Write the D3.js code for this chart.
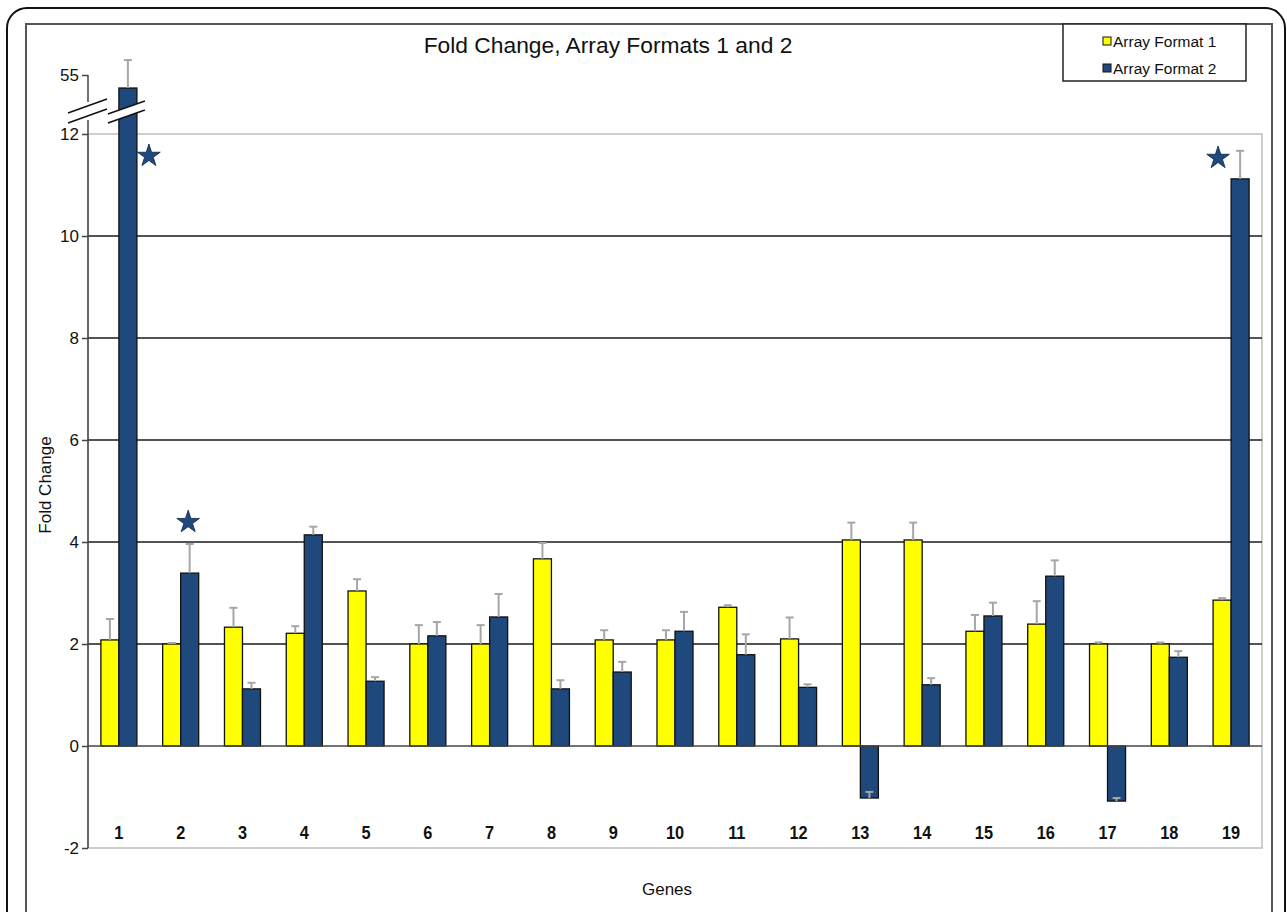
<!DOCTYPE html>
<html>
<head>
<meta charset="utf-8">
<script src="https://cdn.jsdelivr.net/npm/d3@7"></script>
<style>
  html, body { margin: 0; padding: 0; background: #ffffff; }
  svg { display: block; }
  text { font-family: "Liberation Sans", Arial, sans-serif; }
</style>
</head>
<body>
<svg id="chart" width="1287" height="912"></svg>
<script>
// ---------------- data ----------------
const genes = ["1","2","3","4","5","6","7","8","9","10","11","12","13","14","15","16","17","18","19"];
const seriesNames = ["Array Format 1", "Array Format 2"];
const format1Values = [2.08, 2.00, 2.33, 2.21, 3.04, 2.00, 2.00, 3.67, 2.08, 2.08, 2.72, 2.10, 4.04, 4.04, 2.25, 2.39, 2.00, 2.00, 2.86];
const format1Errors = [0.41, 0.02, 0.38, 0.14, 0.23, 0.37, 0.37, 0.31, 0.19, 0.19, 0.04, 0.42, 0.34, 0.34, 0.32, 0.45, 0.03, 0.03, 0.04];
const format2Values = [45.5, 3.39, 1.12, 4.14, 1.27, 2.16, 2.53, 1.12, 1.45, 2.25, 1.79, 1.15, -1.02, 1.20, 2.55, 3.33, -1.08, 1.74, 11.12];
const format2Errors = [20.4, 0.57, 0.12, 0.16, 0.08, 0.27, 0.45, 0.17, 0.20, 0.38, 0.40, 0.06, 0.12, 0.13, 0.26, 0.31, 0.06, 0.12, 0.55];
const yTickValues = [-2, 0, 2, 4, 6, 8, 10, 12, 55];
const gridValues = [2, 4, 6, 8, 10];
const starGenes = ["1", "2", "19"];
const starValues = [11.57, 4.39, 11.53];
const titleText = "Fold Change, Array Formats 1 and 2";
const yAxisTitle = "Fold Change";
const xAxisTitle = "Genes";

// ---------------- layout ----------------
const svg = d3.select("#chart");
const plot = { left: 88, right: 1262, top: 134, bottom: 848 };
const colors = { f1: "#ffff00", f2: "#1f497d", err: "#a6a6a6" };

const x0 = d3.scaleBand().domain(genes).range([plot.left, plot.right])
  .paddingInner(0.417).paddingOuter(0.2085);
const x1 = d3.scaleBand().domain(seriesNames).range([0, x0.bandwidth()]);
// broken axis: -2..12 linear, 12..55 compressed
const y = d3.scaleLinear().domain([-2, 12, 55]).range([plot.bottom, plot.top, 75]);

// outer frames
svg.append("rect").attr("x", 7).attr("y", 8).attr("width", 1278).attr("height", 940)
  .attr("rx", 20).attr("fill", "#fff").attr("stroke", "#111").attr("stroke-width", 2);
svg.append("rect").attr("x", 26).attr("y", 24).attr("width", 1246).attr("height", 920)
  .attr("fill", "#fff").attr("stroke", "#555").attr("stroke-width", 2);

// plot area border
svg.append("rect").attr("x", plot.left).attr("y", plot.top)
  .attr("width", plot.right - plot.left).attr("height", plot.bottom - plot.top)
  .attr("fill", "#fff").attr("stroke", "#bdbdbd").attr("stroke-width", 1.5);

// gridlines
svg.append("g").selectAll("line").data(gridValues).join("line")
  .attr("x1", plot.left).attr("x2", plot.right)
  .attr("y1", d => y(d)).attr("y2", d => y(d))
  .attr("stroke", "#1a1a1a").attr("stroke-width", 1.4);

// bars
const rows = genes.map((g, i) => ({
  gene: g,
  vals: [
    { s: seriesNames[0], v: format1Values[i], e: format1Errors[i], c: colors.f1 },
    { s: seriesNames[1], v: format2Values[i], e: format2Errors[i], c: colors.f2 }
  ]
}));

const groups = svg.append("g").selectAll("g").data(rows).join("g")
  .attr("transform", d => `translate(${x0(d.gene)},0)`);

groups.selectAll("rect").data(d => d.vals).join("rect")
  .attr("x", d => x1(d.s))
  .attr("width", x1.bandwidth())
  .attr("y", d => y(Math.max(0, d.v)))
  .attr("height", d => Math.abs(y(d.v) - y(0)))
  .attr("fill", d => d.c)
  .attr("stroke", "#111").attr("stroke-width", 1.3);

// error bars (plus direction)
const eb = groups.selectAll("g.err").data(d => d.vals).join("g").attr("class", "err");
eb.append("line")
  .attr("x1", d => x1(d.s) + x1.bandwidth() / 2).attr("x2", d => x1(d.s) + x1.bandwidth() / 2)
  .attr("y1", d => y(d.v)).attr("y2", d => y(d.v + d.e))
  .attr("stroke", colors.err).attr("stroke-width", 2);
eb.append("line")
  .attr("x1", d => x1(d.s) + x1.bandwidth() / 2 - 4).attr("x2", d => x1(d.s) + x1.bandwidth() / 2 + 4)
  .attr("y1", d => y(d.v + d.e)).attr("y2", d => y(d.v + d.e))
  .attr("stroke", colors.err).attr("stroke-width", 2);

// zero line
svg.append("line").attr("x1", plot.left).attr("x2", plot.right)
  .attr("y1", y(0)).attr("y2", y(0)).attr("stroke", "#444").attr("stroke-width", 1.5);

// y axis (ticks + labels)
const yAxis = svg.append("g").attr("transform", `translate(${plot.left},0)`)
  .call(d3.axisLeft(y).tickValues(yTickValues).tickSize(6).tickPadding(3).tickFormat(d => String(d)));
yAxis.select(".domain").remove();
yAxis.selectAll(".tick line").attr("stroke", "#444").attr("stroke-width", 1.5);
yAxis.selectAll(".tick text").attr("font-size", 17).attr("fill", "#111")
  .attr("font-family", "'Liberation Sans', Arial, sans-serif");

// y axis line (broken)
const axBreakTop = y(12) - 32, axBreakBot = y(12) - 14;
svg.append("line").attr("x1", plot.left).attr("x2", plot.left)
  .attr("y1", y(55)).attr("y2", axBreakTop).attr("stroke", "#444").attr("stroke-width", 1.5);
svg.append("line").attr("x1", plot.left).attr("x2", plot.left)
  .attr("y1", axBreakBot).attr("y2", plot.bottom).attr("stroke", "#444").attr("stroke-width", 1.5);

// break marks
function breakMark(xa, xb, ya, yb, gap) {
  svg.append("polygon")
    .attr("points", `${xa},${ya} ${xb},${yb} ${xb},${yb + gap} ${xa},${ya + gap}`)
    .attr("fill", "#fff");
  [0, gap].forEach(o => svg.append("line")
    .attr("x1", xa).attr("y1", ya + o).attr("x2", xb).attr("y2", yb + o)
    .attr("stroke", "#111").attr("stroke-width", 1.5));
}
breakMark(plot.left - 20, plot.left + 19, y(12) - 21, y(12) - 35, 10);
const b1x = x0(genes[0]) + x1(seriesNames[1]);
breakMark(b1x - 11, b1x + x1.bandwidth() + 8, y(12) - 20, y(12) - 33, 9);

// stars
const starShape = d3.symbol().type(d3.symbolStar).size(160);
const starDx = [x1.bandwidth() * 2 + 12, x1.bandwidth() * 1.5 - 1.5, 5];
svg.append("g").selectAll("path").data(starGenes).join("path")
  .attr("d", starShape)
  .attr("transform", (g, i) => `translate(${x0(g) + starDx[i]},${y(starValues[i])})`)
  .attr("fill", colors.f2).attr("stroke", "#0d2545").attr("stroke-width", 0.8);

// category labels (condensed bold)
svg.append("g").selectAll("text").data(genes).join("text")
  .attr("transform", g => `translate(${x0(g) + x0.bandwidth() / 2},839) scale(0.86,1)`)
  .attr("text-anchor", "middle")
  .attr("font-size", 19).attr("font-weight", "bold")
  .attr("fill", "#111")
  .text(g => g);

// title
svg.append("text").attr("x", 608).attr("y", 53).attr("text-anchor", "middle")
  .attr("font-size", 22.8).attr("fill", "#111").text(titleText);

// axis titles
svg.append("text").attr("transform", "translate(51,485) rotate(-90)")
  .attr("text-anchor", "middle").attr("font-size", 17).attr("fill", "#111").text(yAxisTitle);
svg.append("text").attr("x", 667).attr("y", 895).attr("text-anchor", "middle")
  .attr("font-size", 17).attr("fill", "#111").text(xAxisTitle);

// legend
const lg = svg.append("g");
lg.append("rect").attr("x", 1063).attr("y", 24).attr("width", 183).attr("height", 57)
  .attr("fill", "#fff").attr("stroke", "#222").attr("stroke-width", 1.5);
const legendItems = lg.selectAll("g").data(seriesNames).join("g")
  .attr("transform", (d, i) => `translate(1103,${41 + i * 27})`);
legendItems.append("rect").attr("x", 0).attr("y", -4).attr("width", 8).attr("height", 8)
  .attr("fill", (d, i) => i === 0 ? colors.f1 : colors.f2).attr("stroke", "#111").attr("stroke-width", 1);
legendItems.append("text").attr("x", 10).attr("y", 5.5).attr("font-size", 15.5)
  .attr("fill", "#111").text(d => d);
</script>
</body>
</html>
